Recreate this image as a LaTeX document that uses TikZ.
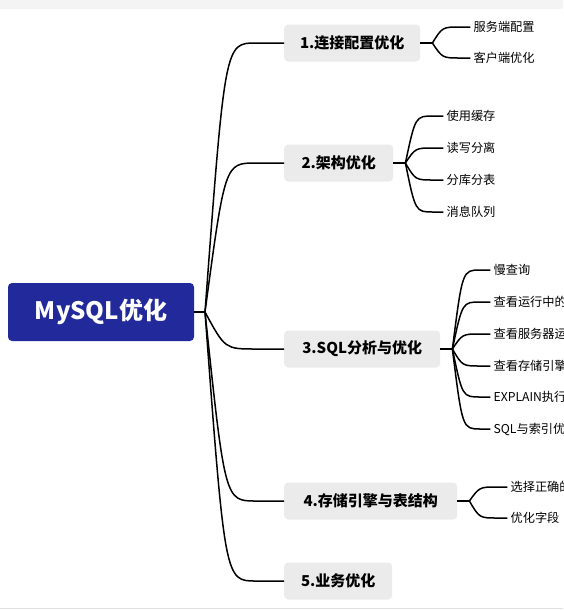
\documentclass[tikz,border=0pt]{standalone}
\usepackage{fontspec}
\newfontfamily\cjk{Noto Sans CJK SC}
\definecolor{rootblue}{HTML}{222A9B}
\definecolor{topicgray}{HTML}{EBEBEB}
\definecolor{bandgray}{HTML}{F4F4F4}

\begin{document}
\begin{tikzpicture}[x=1pt,y=-1pt,
  rootbox/.style={fill=rootblue,rounded corners=4pt,minimum width=186pt,minimum height=58pt,
    text=white,font=\cjk\bfseries\fontsize{24}{28}\selectfont},
  topicbox/.style={fill=topicgray,rounded corners=4pt,minimum height=37pt,anchor=west,
    font=\cjk\bfseries\fontsize{15}{18}\selectfont},
  leaf/.style={anchor=west,inner sep=0pt,font=\cjk\fontsize{12.2}{14}\selectfont},
  link/.style={draw=black,line width=1.5pt}]
  \path[use as bounding box] (0,0) rectangle (563,611);
  \clip (0,0) rectangle (563,611);
  \fill[bandgray] (0,0) rectangle (563,9);
  \draw[black!12] (0,608) -- (563,608);

  % root
  \node[rootbox] (root) at (101,312) {MySQL优化};
  \coordinate (hub) at (205,312);
  \coordinate (hubc) at (225,312);
  \coordinate (hube) at (256,312);
  \draw[link] (root.east) -- (hub);

  % main topics
  \foreach \name/\y/\w/\txt in {t1/43/136/1.连接配置优化, t2/163/109/2.架构优化,
      t3/349/156/3.SQL分析与优化, t4/501/173/4.存储引擎与表结构, t5/581/108/5.业务优化}
  {
    \node[topicbox,minimum width=\w pt] (\name) at (284,\y) {\txt};
    \draw[link] (hub) .. controls (hubc |- \name.west) .. (hube |- \name.west) -- (\name.west);
  }

  % fans on the right side
  \foreach \name in {t1,t2,t3,t4}
  {
    \coordinate (f\name) at ([xshift=12pt]\name.east);
    \coordinate (g\name) at ([xshift=22pt]\name.east);
    \coordinate (h\name) at ([xshift=40pt]\name.east);
    \draw[link] (\name.east) -- (f\name);
  }

  % leaves
  \foreach \p/\y/\txt [count=\i] in {t1/27/服务端配置, t1/58/客户端优化,
      t2/116/使用缓存, t2/148/读写分离, t2/180/分库分表, t2/212/消息队列,
      t3/270/慢查询, t3/302/查看运行中的, t3/334/查看服务器运, t3/366/查看存储引擎,
      t3/397/EXPLAIN执行, t3/429/SQL与索引优,
      t4/487/选择正确的, t4/518/优化字段}
  {
    \node[leaf] (l\i) at ([xshift=41pt]f\p |- 0,\y) {\txt};
    \draw[link] (f\p) .. controls (g\p |- l\i.west) .. (h\p |- l\i.west) -- ([xshift=-3pt]l\i.west);
  }
\end{tikzpicture}
\end{document}
